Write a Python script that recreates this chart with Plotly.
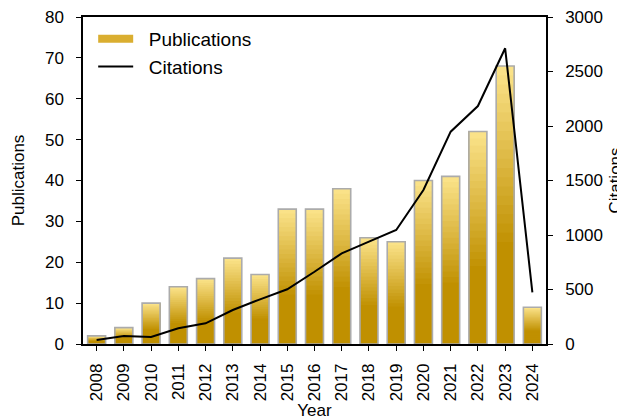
import plotly.graph_objects as go

years = [str(y) for y in range(2008, 2025)]
publications = [2, 4, 10, 14, 16, 21, 17, 33, 33, 38, 26, 25, 40, 41, 52, 68, 9]
citations = [37, 73, 64, 144, 190, 312, 410, 502, 663, 832, 939, 1046, 1413, 1948, 2183, 2713, 474]

LIGHT = (252, 228, 140)
DARK = (192, 144, 0)
N_SEG = 30

def grad_color(f):
    if f < 0.35:
        c = DARK
    else:
        t = (f - 0.35) / 0.65
        c = tuple(int(round(d + (l - d) * t)) for d, l in zip(DARK, LIGHT))
    return "rgb(%d,%d,%d)" % c

fig = go.Figure()

for k in range(N_SEG):
    f0 = k / N_SEG
    fm = (k + 0.5) / N_SEG
    fig.add_trace(go.Bar(
        x=years,
        y=[p * (1 - f0) for p in publications],
        base=[p * f0 for p in publications],
        marker=dict(color=grad_color(fm), line=dict(width=0)),
        showlegend=False, hoverinfo="skip",
    ))

# outline
fig.add_trace(go.Bar(
    x=years, y=publications,
    marker=dict(color="rgba(0,0,0,0)", line=dict(color="#ABABAB", width=1.6)),
    showlegend=False,
))

NB = "\u00a0\u00a0"

# legend entry for bars (wide swatch)
fig.add_trace(go.Scatter(
    x=[None], y=[None], name=NB + "Publications", mode="lines",
    line=dict(color="rgb(218,174,48)", width=8),
    legendgroup="a",
))

fig.add_trace(go.Scatter(
    x=years, y=citations, yaxis="y2", mode="lines", name=NB + "Citations",
    line=dict(color="black", width=2), legendgroup="b",
))

FONT = "Arial, Liberation Sans, sans-serif"
axis_font = dict(family=FONT, size=17, color="black")

fig.update_layout(
    width=625, height=416,
    margin=dict(l=75, r=87, t=9, b=80, autoexpand=False),
    paper_bgcolor="white", plot_bgcolor="white",
    barmode="overlay", bargap=0.34,
    font=axis_font,
    showlegend=True,
    legend=dict(x=0.022, y=0.991, xanchor="left", yanchor="top",
                bgcolor="rgba(0,0,0,0)", font=dict(size=19, family=FONT),
                traceorder="grouped", tracegroupgap=0, itemwidth=35),
    xaxis=dict(type="category", showline=True, linecolor="black", linewidth=1.5,
               mirror=True, ticks="outside", ticklen=5, tickcolor="black",
               tickangle=-90, showgrid=False, ticklabelstandoff=6, automargin=False,
               title=dict(text="Year", standoff=3, font=dict(size=17))),
    yaxis=dict(range=[0, 80], dtick=10, showline=True, linecolor="black", linewidth=1.5,
               ticks="outside", ticklen=5, tickcolor="black", showgrid=False, zeroline=False,
               ticklabelstandoff=9, automargin=False, ticklabeloverflow="allow",
               title=dict(text="Publications", standoff=16, font=dict(size=17))),
    yaxis2=dict(range=[0, 3000], dtick=500, overlaying="y", side="right",
                showline=True, linecolor="black", linewidth=1.5,
                ticks="outside", ticklen=5, tickcolor="black", showgrid=False, zeroline=False,
                ticklabelstandoff=9, automargin=False, ticklabeloverflow="allow",
                title=dict(text="Citations", standoff=7, font=dict(size=17))),
)

fig.write_html("out.html")
